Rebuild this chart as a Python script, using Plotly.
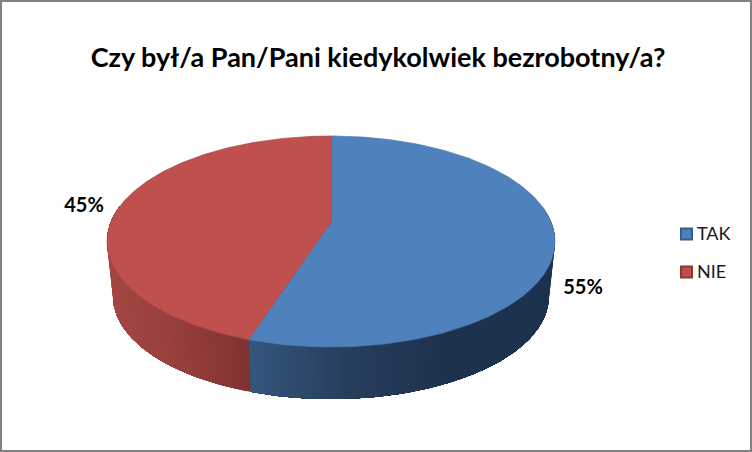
import numpy as np
import plotly.graph_objects as go

categories = ['TAK', 'NIE']
values = [55, 45]
slice_colors = ['#4f81bd', '#c0504d']
rim_colors = ['#4a78ae', '#a84542']
title_text = 'Czy był/a Pan/Pani kiedykolwiek bezrobotny/a?'

# 3d look: a circle seen through a perspective projection (pixels of the 752x452 page)
CX, APEX_Y, FLOOR_Y = 331, 222, 277.4
A, B, K, S = 220.1, 101.9, 0.185, 0.973


def project(theta, r=1.0, floor=False):
    # theta runs clockwise from 12 o'clock
    u = r * np.sin(theta)
    v = r * np.cos(theta)
    w = 1 + K * v
    s = S if floor else 1.0
    y0 = FLOOR_Y if floor else APEX_Y
    return CX + s * A * u / w, y0 - s * B * v / w


def shade(x, stops):
    xs = [p[0] for p in stops]
    rgb = [np.interp(x, xs, [p[1][i] for p in stops]) for i in range(3)]
    return 'rgb(%d,%d,%d)' % tuple(rgb)


wall_stops = [
    [(250, (52, 87, 127)), (350, (39, 62, 92)), (450, (29, 50, 78)), (555, (28, 50, 78))],
    [(107, (165, 72, 68)), (180, (150, 64, 60)), (250, (128, 50, 48))],
]

shares = np.array(values) / sum(values) * 2 * np.pi
starts = np.concatenate([[0], np.cumsum(shares)[:-1]])

fig = go.Figure()

# side wall, only the part facing us. each band runs to the end of the slice
# and the next one paints over it, so no seams show between bands
for i in range(len(values)):
    lo = max(starts[i], np.pi * 0.45)
    hi = min(starts[i] + shares[i], np.pi * 1.55)
    edges = np.linspace(lo, hi, 70)
    for k in range(len(edges) - 1):
        t = edges[k:]
        xt, yt = project(t)
        xb, yb = project(t[::-1], floor=True)
        mid = edges[k:k + 2]
        col = shade((project(mid)[0].mean() + project(mid, floor=True)[0].mean()) / 2, wall_stops[i])
        fig.add_trace(go.Scatter(x=np.r_[xt, xb], y=np.r_[yt, yb], mode='lines', fill='toself',
                                 fillcolor=col, line=dict(width=0),
                                 hoverinfo='skip', showlegend=False))

# top face
for i in range(len(values)):
    t = np.linspace(starts[i], starts[i] + shares[i], 200)
    x, y = project(t)
    ax, ay = project(0.0, r=0.0)
    fig.add_trace(go.Scatter(x=np.r_[ax, x, ax], y=np.r_[ay, y, ay], mode='lines', fill='toself',
                             fillcolor=slice_colors[i], line=dict(color=rim_colors[i], width=0.7),
                             hoverinfo='skip', showlegend=False))

# percent labels
label_x = [583, 84]
label_y = [289, 207]
fig.add_trace(go.Scatter(x=label_x, y=label_y, mode='text',
                         text=['%d%%' % v for v in values],
                         textfont=dict(family='Lato', size=20, color='black', weight='bold'),
                         hoverinfo='skip', showlegend=False))

# legend
legend_x = [686.5, 686.5]
legend_y = [234, 272]
legend_text_x = [697, 697]
legend_text_y = [235, 273]
legend_lines = ['#385d8a', '#8c3836']
fig.add_trace(go.Scatter(x=legend_x, y=legend_y, mode='markers',
                         marker=dict(symbol='square', size=11, color=slice_colors,
                                     line=dict(color=legend_lines, width=2)),
                         hoverinfo='skip', showlegend=False))
fig.add_trace(go.Scatter(x=legend_text_x, y=legend_text_y, mode='text',
                         text=categories, textposition='middle right',
                         textfont=dict(family='Lato', size=18, color='#1a1a1a'),
                         hoverinfo='skip', showlegend=False))

fig.update_layout(
    width=752, height=452,
    margin=dict(l=0, r=0, t=0, b=0),
    paper_bgcolor='white', plot_bgcolor='white',
    showlegend=False,
    title=dict(text=title_text, x=378 / 752, y=1 - 58 / 452, xanchor='center', yanchor='middle',
               font=dict(family='Lato', size=27, color='black', weight='bold')),
    xaxis=dict(range=[0, 752], visible=False, fixedrange=True),
    yaxis=dict(range=[452, 0], visible=False, fixedrange=True),
    shapes=[dict(type='rect', xref='paper', yref='paper', x0=0, y0=0, x1=1, y1=1,
                 line=dict(color='#808080', width=4), fillcolor='rgba(0,0,0,0)')],
)

fig.write_html('out.html', config=dict(displayModeBar=False),
               post_script="document.body.style.margin='0';")
